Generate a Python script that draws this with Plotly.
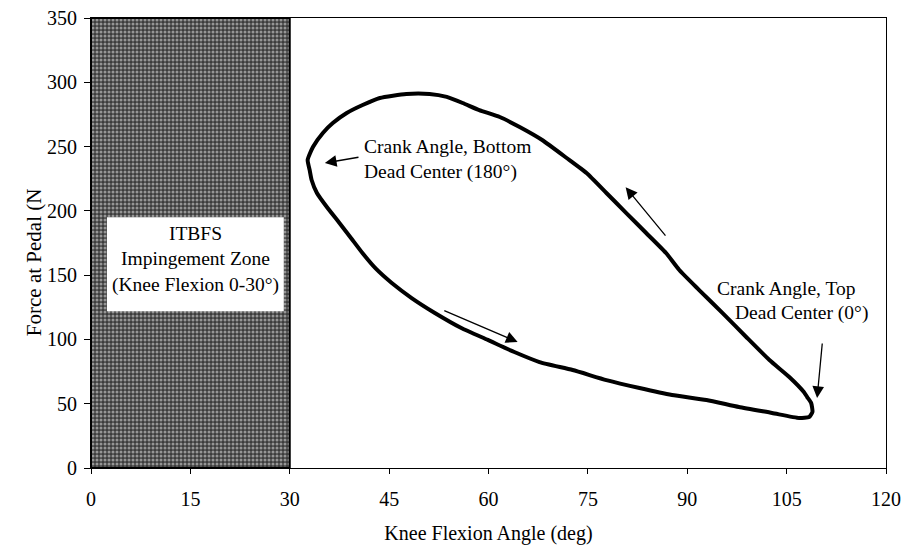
import plotly.graph_objects as go

# Loop data: knee flexion angle (deg) vs pedal force (N), TDC -> upper path -> BDC -> lower path -> TDC
knee_angle = [108.7, 108.1, 107.6, 105.4, 102.4, 98.9, 95.3, 91.8, 88.8, 86.8, 83.8, 80.8, 77.8,
              74.8, 71.8, 68.1, 64.7, 61.7, 58.6, 56.1, 53.7, 51.1, 47.6, 43.6, 41.0, 38.6,
              36.5, 35.0, 33.5, 32.7, 33.0, 33.3, 34.1, 35.6, 37.5, 39.3, 41.0, 43.0, 45.4,
              48.4, 51.9, 55.9, 59.9, 63.9, 67.7, 72.7, 77.8, 82.8, 87.7, 92.9, 97.8, 102.8,
              106.9, 108.4, 108.9, 108.7]
pedal_force = [50.6, 55.2, 59.1, 70.8, 84.0, 101.9, 120.6, 138.4, 154.0, 167.2, 182.8, 198.3, 213.9,
               229.4, 241.1, 255.1, 265.2, 273.0, 278.4, 283.9, 288.6, 290.9, 290.9, 287.8, 282.3,
               276.1, 268.3, 260.6, 249.7, 239.6, 231.8, 224.0, 213.9, 203.0, 190.6, 178.5, 167.0,
               155.0, 143.9, 132.2, 120.6, 108.9, 99.6, 90.2, 82.4, 76.2, 68.4, 62.2, 56.8, 52.9,
               47.4, 42.8, 38.9, 39.7, 43.6, 50.6]

# Impingement zone (knee flexion 0-30 deg)
zone_x = [0, 0, 30, 30, 0]
zone_y = [0, 350, 350, 0, 0]

x_ticks = [0, 15, 30, 45, 60, 75, 90, 105, 120]
y_ticks = [0, 50, 100, 150, 200, 250, 300, 350]

FONT = "Liberation Serif, Times New Roman, serif"

fig = go.Figure()

fig.add_trace(go.Scatter(
    x=zone_x, y=zone_y, mode="lines", fill="toself",
    line=dict(color="black", width=2),
    fillpattern=dict(shape=".", bgcolor="#3c3c3c", fgcolor="#f0f0f0", size=4, solidity=0.45),
    hoverinfo="skip", showlegend=False,
))

fig.add_trace(go.Scatter(
    x=knee_angle, y=pedal_force, mode="lines",
    line=dict(color="black", width=4, shape="spline", smoothing=0.5),
    showlegend=False,
))

# white label box inside the zone
fig.add_shape(type="rect", x0=2.4, x1=29.1, y0=122, y1=195,
              fillcolor="white", line=dict(width=0), layer="above")

ann_font = dict(family=FONT, size=19.5, color="black")
fig.add_annotation(x=15.7, y=161.8, xref="x", yref="y", showarrow=False,
                   text="ITBFS<br>Impingement Zone<br>(Knee Flexion 0-30°)",
                   font=ann_font, align="center")
fig.add_annotation(x=40.9, y=239.6, xref="x", yref="y", showarrow=False, xanchor="left",
                   text="Crank Angle, Bottom<br>Dead Center (180°)", font=ann_font, align="left")
fig.add_annotation(x=105.0, y=140, xref="x", yref="y", showarrow=False,
                   text="Crank Angle, Top", font=ann_font)
fig.add_annotation(x=107.3, y=120.6, xref="x", yref="y", showarrow=False,
                   text="Dead Center (0°)", font=ann_font)

# arrows (tip at x,y ; tail at ax,ay)
arrows = [
    (35.3, 237.2, 40.6, 241.9),
    (80.7, 218.4, 86.9, 179.6),
    (64.4, 98.0, 53.1, 122.9),
    (109.6, 54.4, 110.4, 98.0),
]
for x, y, ax, ay in arrows:
    fig.add_annotation(x=x, y=y, ax=ax, ay=ay, xref="x", yref="y", axref="x", ayref="y",
                       text="", showarrow=True, arrowhead=2, arrowsize=1.8, arrowwidth=1.3,
                       arrowcolor="black")

# y-axis title as rotated text
fig.add_annotation(x=-0.089, y=0.458, xref="paper", yref="paper", showarrow=False,
                   text="Force at Pedal (N", textangle=-90,
                   font=dict(family=FONT, size=21, color="black"))

fig.update_layout(
    width=904, height=545,
    margin=dict(l=91, r=18, t=18, b=77, autoexpand=False),
    paper_bgcolor="white", plot_bgcolor="white",
    font=dict(family=FONT, color="black"),
    xaxis=dict(range=[0, 120], tickvals=x_ticks, showgrid=False, zeroline=False,
               showline=True, linecolor="black", linewidth=1, mirror=True,
               ticks="outside", ticklen=5, tickcolor="black", automargin=False,
               tickfont=dict(family=FONT, size=20), ticklabelstandoff=8,
               title=dict(text="Knee Flexion Angle (deg)", font=dict(family=FONT, size=20),
                          standoff=16)),
    yaxis=dict(range=[0, 350], tickvals=y_ticks, showgrid=False, zeroline=False,
               showline=True, linecolor="black", linewidth=1, mirror=True,
               ticks="outside", ticklen=6, tickcolor="black", automargin=False,
               tickfont=dict(family=FONT, size=20), ticklabelstandoff=3),
)

fig.write_html("out.html")
